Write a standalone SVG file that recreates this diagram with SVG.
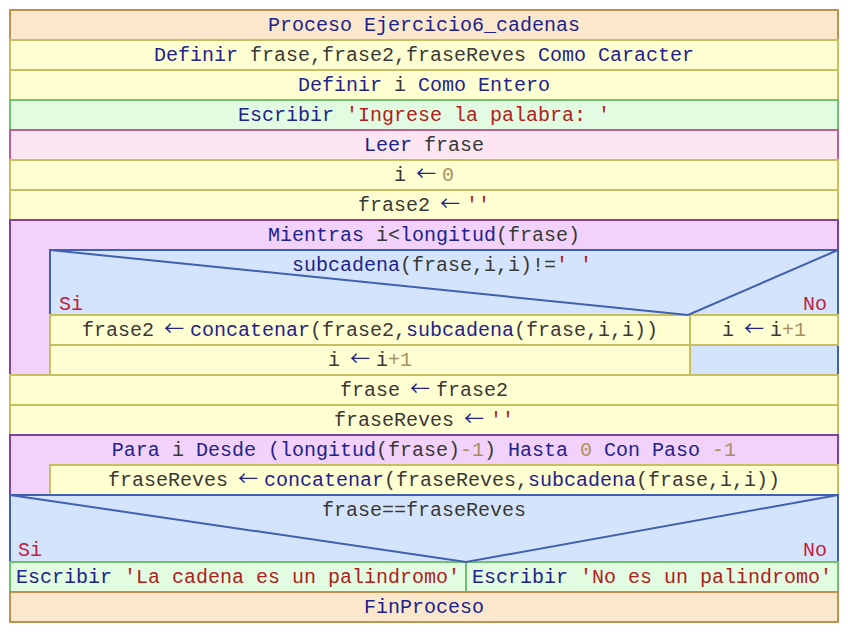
<svg xmlns="http://www.w3.org/2000/svg" width="848" height="632" viewBox="0 0 848 632">
  <style>
    text { font-family: "Liberation Mono", "DejaVu Sans Mono", monospace; font-size: 20px; fill: #333333; }
    .k { fill: #22228c; }
    .v { fill: #383838; }
    .s { fill: #b02020; }
    .n { fill: #a89060; }
    .a { fill: #22228c; font-family: "Noto Sans CJK SC", "DejaVu Sans Mono", sans-serif; font-size: 20px; letter-spacing: -6px; }
    .lbl { fill: #c02040; }
    .proc { fill: #fbe8cc; stroke: #c09050; stroke-width: 2; }
    .asg { fill: #ffffd2; stroke: #c8c060; stroke-width: 2; }
    .out { fill: #e2fce2; stroke: #70c070; stroke-width: 2; }
    .inp { fill: #fde6f2; stroke: #c06090; stroke-width: 2; }
    .loop { fill: #f2d2fa; stroke: #8040a0; stroke-width: 2; }
    .cond { fill: #d4e4fc; stroke: #4060b0; stroke-width: 2; }
    .diag { stroke: #4060b0; stroke-width: 2; fill: none; }
  </style>

  <g id="proceso">
    <rect class="proc" x="10" y="10" width="828" height="30"/>
    <text x="424" y="31" text-anchor="middle" class="k">Proceso Ejercicio6_cadenas</text>
  </g>
  <g id="definir1">
    <rect class="asg" x="10" y="40" width="828" height="30"/>
    <text x="424" y="61" text-anchor="middle"><tspan class="k">Definir</tspan> <tspan class="v">frase,frase2,fraseReves</tspan> <tspan class="k">Como Caracter</tspan></text>
  </g>
  <g id="definir2">
    <rect class="asg" x="10" y="70" width="828" height="30"/>
    <text x="424" y="91" text-anchor="middle"><tspan class="k">Definir</tspan> <tspan class="v">i</tspan> <tspan class="k">Como Entero</tspan></text>
  </g>
  <g id="escribir1">
    <rect class="out" x="10" y="100" width="828" height="30"/>
    <text x="424" y="121" text-anchor="middle"><tspan class="k">Escribir</tspan> <tspan class="s">'Ingrese la palabra: '</tspan></text>
  </g>
  <g id="leer">
    <rect class="inp" x="10" y="130" width="828" height="30"/>
    <text x="424" y="151" text-anchor="middle"><tspan class="k">Leer</tspan> <tspan class="v">frase</tspan></text>
  </g>
  <g id="asig-i">
    <rect class="asg" x="10" y="160" width="828" height="30"/>
    <text x="424" y="181" text-anchor="middle"><tspan class="v">i</tspan> <tspan class="a" dx="-2">←</tspan> <tspan class="n">0</tspan></text>
  </g>
  <g id="asig-frase2">
    <rect class="asg" x="10" y="190" width="828" height="30"/>
    <text x="424" y="211" text-anchor="middle"><tspan class="v">frase2</tspan> <tspan class="a" dx="-2">←</tspan> <tspan class="s">''</tspan></text>
  </g>

  <g id="mientras">
    <rect class="loop" x="10" y="220" width="828" height="155"/>
    <text x="424" y="241" text-anchor="middle"><tspan class="k">Mientras</tspan> <tspan class="v">i&lt;</tspan><tspan class="k">longitud</tspan><tspan class="v">(frase)</tspan></text>
  </g>
  <g id="si-subcadena">
    <rect class="cond" x="50" y="250" width="788" height="125"/>
    <text x="442" y="271" text-anchor="middle"><tspan class="k">subcadena</tspan><tspan class="v">(frase,i,i)!=</tspan><tspan class="s">' '</tspan></text>
    <text class="lbl" x="59" y="310">Si</text>
    <text class="lbl" x="827" y="310" text-anchor="end">No</text>
  </g>
  <g id="concatenar1">
    <rect class="asg" x="50" y="315" width="640" height="30"/>
    <text x="370" y="336" text-anchor="middle"><tspan class="v">frase2</tspan> <tspan class="a" dx="-2">←</tspan> <tspan class="k">concatenar</tspan><tspan class="v">(frase2,</tspan><tspan class="k">subcadena</tspan><tspan class="v">(frase,i,i))</tspan></text>
  </g>
  <g id="inc-no">
    <rect class="asg" x="690" y="315" width="148" height="30"/>
    <text x="764" y="336" text-anchor="middle"><tspan class="v">i</tspan> <tspan class="a" dx="-2">←</tspan> <tspan class="v">i</tspan><tspan class="n">+1</tspan></text>
  </g>
  <g id="inc-si">
    <rect class="asg" x="50" y="345" width="640" height="30"/>
    <text x="370" y="366" text-anchor="middle"><tspan class="v">i</tspan> <tspan class="a" dx="-2">←</tspan> <tspan class="v">i</tspan><tspan class="n">+1</tspan></text>
  </g>

  <g id="asig-frase">
    <rect class="asg" x="10" y="375" width="828" height="30"/>
    <text x="424" y="396" text-anchor="middle"><tspan class="v">frase</tspan> <tspan class="a" dx="-2">←</tspan> <tspan class="v">frase2</tspan></text>
  </g>
  <g id="asig-fraseReves">
    <rect class="asg" x="10" y="405" width="828" height="30"/>
    <text x="424" y="426" text-anchor="middle"><tspan class="v">fraseReves</tspan> <tspan class="a" dx="-2">←</tspan> <tspan class="s">''</tspan></text>
  </g>

  <g id="para">
    <rect class="loop" x="10" y="435" width="828" height="60"/>
    <text x="424" y="456" text-anchor="middle"><tspan class="k">Para</tspan> <tspan class="v">i</tspan> <tspan class="k">Desde (longitud</tspan><tspan class="v">(frase)</tspan><tspan class="n">-1</tspan><tspan class="v">)</tspan> <tspan class="k">Hasta</tspan> <tspan class="n">0</tspan> <tspan class="k">Con Paso</tspan> <tspan class="n">-1</tspan></text>
  </g>
  <g id="concatenar2">
    <rect class="asg" x="50" y="465" width="788" height="30"/>
    <text x="444" y="486" text-anchor="middle"><tspan class="v">fraseReves</tspan> <tspan class="a" dx="-2">←</tspan> <tspan class="k">concatenar</tspan><tspan class="v">(fraseReves,</tspan><tspan class="k">subcadena</tspan><tspan class="v">(frase,i,i))</tspan></text>
  </g>

  <g id="si-palindromo">
    <rect class="cond" x="10" y="495" width="828" height="67"/>
    <text x="424" y="516" text-anchor="middle" class="v">frase==fraseReves</text>
    <text class="lbl" x="18" y="556">Si</text>
    <text class="lbl" x="827" y="556" text-anchor="end">No</text>
  </g>
  <g id="escribir-si">
    <rect class="out" x="10" y="562" width="456" height="30"/>
    <text x="238" y="583" text-anchor="middle"><tspan class="k">Escribir</tspan> <tspan class="s">'La cadena es un palindromo'</tspan></text>
  </g>
  <g id="escribir-no">
    <rect class="out" x="466" y="562" width="372" height="30"/>
    <text x="652" y="583" text-anchor="middle"><tspan class="k">Escribir</tspan> <tspan class="s">'No es un palindromo'</tspan></text>
  </g>
  <g id="finproceso">
    <rect class="proc" x="10" y="592" width="828" height="30"/>
    <text x="424" y="613" text-anchor="middle" class="k">FinProceso</text>
  </g>

  <!-- condition diagonals -->
  <g id="connectors">
    <polyline class="diag" points="50,250 688,315 838,250"/>
    <polyline class="diag" points="10,495 466,562 838,495"/>
  </g>
</svg>
